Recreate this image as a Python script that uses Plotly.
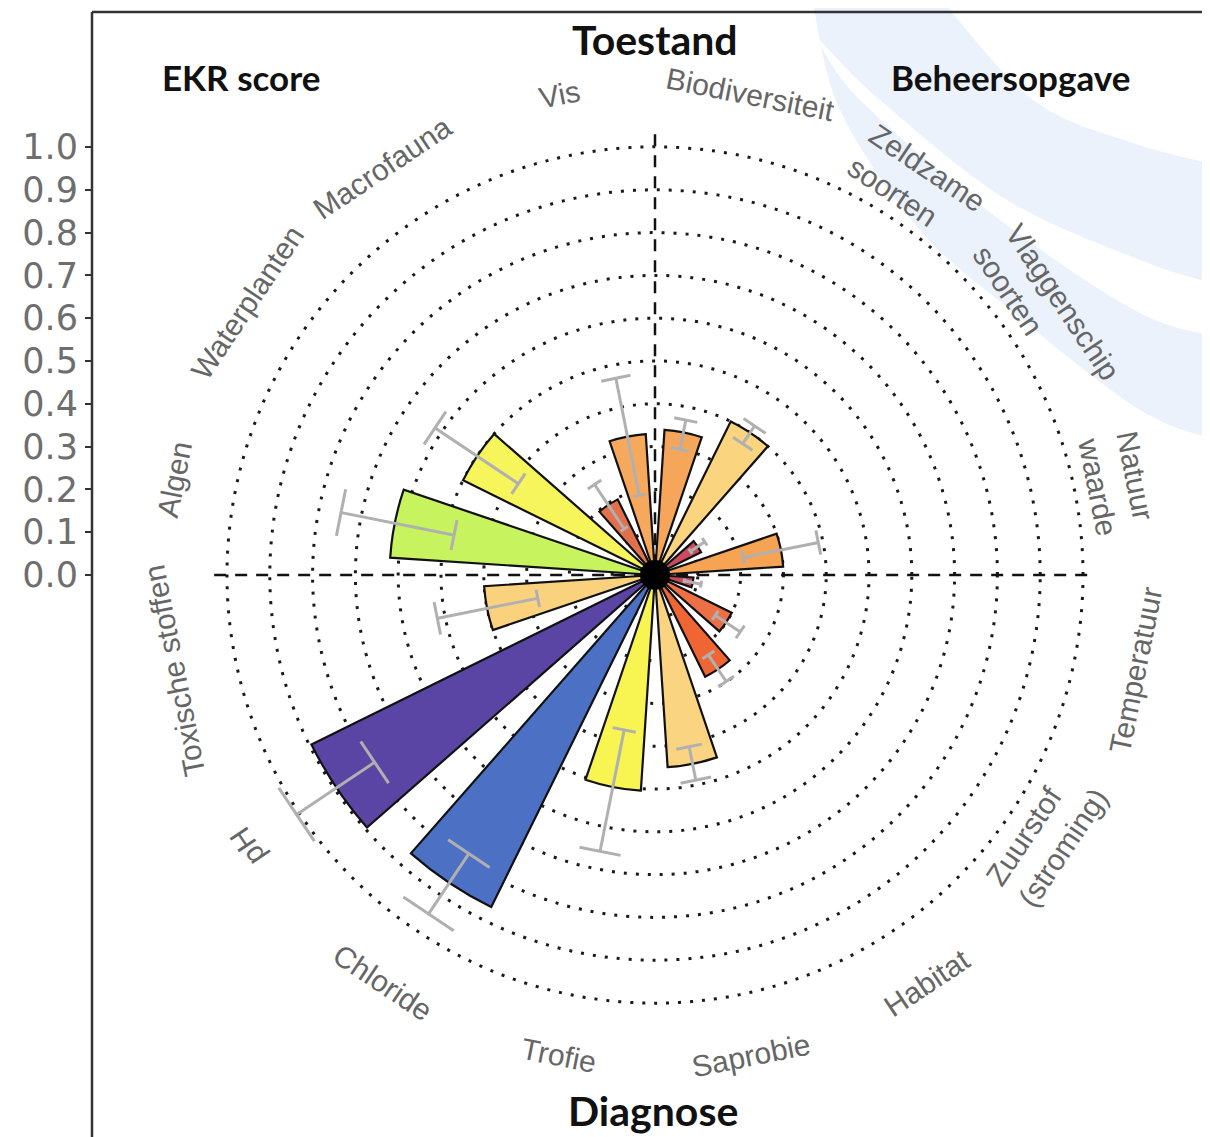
import math
import plotly.graph_objects as go

# ---------------- data ----------------
categories = ["Biodiversiteit", "Zeldzame<br>soorten", "Vlaggenschip<br>soorten", "Natuur<br>waarde",
              "Temperatuur", "Zuurstof<br>(stroming)", "Habitat", "Saprobie", "Trofie", "Chloride",
              "pH", "Toxische stoffen", "Algen", "Waterplanten", "Macrofauna", "Vis"]
ekr = [0.34, 0.40, 0.12, 0.30, 0.09, 0.20, 0.265, 0.45, 0.505, 0.865, 0.895, 0.40, 0.62, 0.50, 0.197, 0.33]
err_low = [0.30, 0.37, 0.10, 0.21, 0.07, 0.17, 0.225, 0.41, 0.37, 0.785, 0.79, 0.28, 0.48, 0.385, 0.13, 0.19]
err_high = [0.37, 0.42, 0.14, 0.39, 0.11, 0.24, 0.30, 0.49, 0.66, 0.955, 1.01, 0.52, 0.75, 0.62, 0.255, 0.47]
radial_ticks = [0.0, 0.1, 0.2, 0.3, 0.4, 0.5, 0.6, 0.7, 0.8, 0.9, 1.0]
tick_labels = ["0.0", "0.1", "0.2", "0.3", "0.4", "0.5", "0.6", "0.7", "0.8", "0.9", "1.0"]

# ---------------- styles ----------------
bar_colors = ["#f6a65a", "#fad47f", "#cf4a5e", "#f6a353", "#c8485e", "#ec6f45", "#f06534", "#fad480",
              "#f8f452", "#4b70c4", "#5a45a5", "#fad27e", "#c6f35e", "#f6f55c", "#e2704c", "#f6a85c"]
label_angles = [11.25, 33.75, 56.25, 78.75, -78.75, -56.25, -33.75, -11.25,
                11.25, 33.75, -123.75, -101.25, -78.75, -56.25, -33.75, -11.25]

W, H = 1210, 1137
OFF = 8                  # page body margin (screen offset of the figure)
CX, CY = 655, 575        # polar centre (screen px)
UNIT = 428               # px per EKR unit
RMAX = 1.05
n = len(categories)
step = 360 / n
theta = [(i + 0.5) * step for i in range(n)]


def px(x):
    return (x - OFF) / W


def py(y):
    return 1 - (y - OFF) / H


fig = go.Figure()

dash_line = dict(color="#111", width=2.5, dash="12px,9px")
fig.add_trace(go.Scatterpolar(r=[1.03, 0], theta=[0, 0], mode="lines", line=dash_line,
                              hoverinfo="skip", showlegend=False))
fig.add_trace(go.Scatterpolar(r=[1.03, 0, 1.03], theta=[270, 0, 90], mode="lines", line=dash_line,
                              hoverinfo="skip", showlegend=False))

# bars
fig.add_trace(go.Barpolar(r=ekr, theta=theta, width=[15] * n,
                          marker=dict(color=bar_colors, line=dict(color="#111", width=2.2)),
                          hoverinfo="skip", showlegend=False))

# error bars
cap = 4.25
er, et = [], []
for t, lo, hi in zip(theta, err_low, err_high):
    er += [lo, hi, None, lo, lo, None, hi, hi, None]
    et += [t, t, None, t - cap, t + cap, None, t - cap, t + cap, None]
fig.add_trace(go.Scatterpolar(r=er, theta=et, mode="lines",
                              line=dict(color="#b0b0b0", width=3),
                              hoverinfo="skip", showlegend=False))

# centre blob
fig.add_trace(go.Scatterpolar(r=[0], theta=[0], mode="markers",
                              marker=dict(color="#000", size=30),
                              hoverinfo="skip", showlegend=False))

# dummy cartesian trace so the EKR axis is drawn
fig.add_trace(go.Scatter(x=[0.5], y=[0.5], mode="markers", marker=dict(opacity=0),
                         hoverinfo="skip", showlegend=False))

R = RMAX * UNIT
fig.update_layout(
    width=W, height=H,
    margin=dict(l=0, r=0, t=0, b=0, pad=0, autoexpand=False),
    paper_bgcolor="white", plot_bgcolor="rgba(0,0,0,0)",
    polar=dict(
        domain=dict(x=[px(CX - R), px(CX + R)], y=[py(CY + R), py(CY - R)]),
        bgcolor="rgba(0,0,0,0)",
        radialaxis=dict(range=[0, RMAX], tickvals=radial_ticks[1:], showticklabels=False,
                        ticks="", showline=False, showgrid=True, gridcolor="#1a1a1a",
                        gridwidth=3, griddash="3px,9px"),
        angularaxis=dict(direction="clockwise", rotation=90, showgrid=False,
                         showticklabels=False, ticks="", showline=False),
    ),
    xaxis=dict(visible=False, domain=[0, 1], range=[0, 1], automargin=False),
    yaxis=dict(domain=[py(CY), py(CY - UNIT)], range=[0, 1], tickvals=radial_ticks,
               ticktext=tick_labels, ticks="outside", ticklen=7, tickwidth=2,
               tickcolor="#333", showgrid=False, zeroline=False, showline=False,
               anchor="free", position=px(92), automargin=False,
               tickfont=dict(family="DejaVu Sans", size=35, color="#6e6e6e")),
)


# decorative pale-blue swoosh
def catmull(pts):
    segs = []
    for i in range(len(pts) - 1):
        p0 = pts[i - 1] if i > 0 else pts[i]
        p1, p2 = pts[i], pts[i + 1]
        p3 = pts[i + 2] if i + 2 < len(pts) else pts[i + 1]
        c1 = (p1[0] + (p2[0] - p0[0]) / 6, p1[1] + (p2[1] - p0[1]) / 6)
        c2 = (p2[0] - (p3[0] - p1[0]) / 6, p2[1] - (p3[1] - p1[1]) / 6)
        segs.append("C %.5f,%.5f %.5f,%.5f %.5f,%.5f" % (px(c1[0]), py(c1[1]), px(c2[0]), py(c2[1]),
                                                        px(p2[0]), py(p2[1])))
    return " ".join(segs)


upper = [(940, -2), (1033, 100), (1133, 143), (1225, 167)]
lower = [(1225, 442), (1140, 410), (1007, 307), (920, 230), (840, 110), (812, -2)]
blue_path = "M %.5f,%.5f " % (px(812), py(-2)) + "L %.5f,%.5f " % (px(940), py(-2)) + catmull(upper) + \
            " L %.5f,%.5f " % (px(1225), py(442)) + catmull(lower) + " Z"
s_up = [(815, 35), (880, 100), (1007, 200), (1140, 260), (1225, 287)]
s_lo = [(1225, 338), (1140, 313), (1000, 220), (860, 100), (815, 35)]
stripe_path = "M %.5f,%.5f " % (px(815), py(35)) + catmull(s_up) + \
              " L %.5f,%.5f " % (px(1225), py(338)) + catmull(s_lo) + " Z"
shapes = [
    dict(type="path", path=blue_path, xref="paper", yref="paper", fillcolor="#ebf2fc",
         line=dict(width=0), layer="below"),
    dict(type="path", path=stripe_path, xref="paper", yref="paper", fillcolor="white",
         line=dict(width=0), layer="below"),
    dict(type="line", xref="paper", yref="paper", x0=px(92), x1=px(92), y0=py(12), y1=py(H + 20),
         line=dict(color="#333", width=2.5)),
    dict(type="line", xref="paper", yref="paper", x0=px(92), x1=px(W + 20), y0=py(12), y1=py(12),
         line=dict(color="#333", width=2.5)),
]
fig.update_layout(shapes=shapes)

# category labels around the circle
ann = []
for lab, t, ang in zip(categories, theta, label_angles):
    lr = 1.10 if "<br>" in lab else 1.145
    x = CX + lr * UNIT * math.sin(math.radians(t))
    y = CY - lr * UNIT * math.cos(math.radians(t))
    ann.append(dict(text=lab, x=px(x), y=py(y), xref="paper", yref="paper", showarrow=False,
                    textangle=ang, xanchor="center", yanchor="middle", align="left",
                    font=dict(family="Liberation Sans", size=30, color="#666")))

title_font = dict(family="Lato", size=41, color="#111")
sub_font = dict(family="Lato", size=35, color="#111")
for txt, x, y, f in [("<b>Toestand</b>", 655, 40, title_font), ("<b>Diagnose</b>", 653, 1110, title_font),
                     ("<b>EKR score</b>", 241, 77, sub_font), ("<b>Beheersopgave</b>", 1011, 77, sub_font)]:
    ann.append(dict(text=txt, x=px(x), y=py(y), xref="paper", yref="paper", showarrow=False,
                    xanchor="center", yanchor="middle", font=f))
fig.update_layout(annotations=ann)

fig.write_html("out.html")
